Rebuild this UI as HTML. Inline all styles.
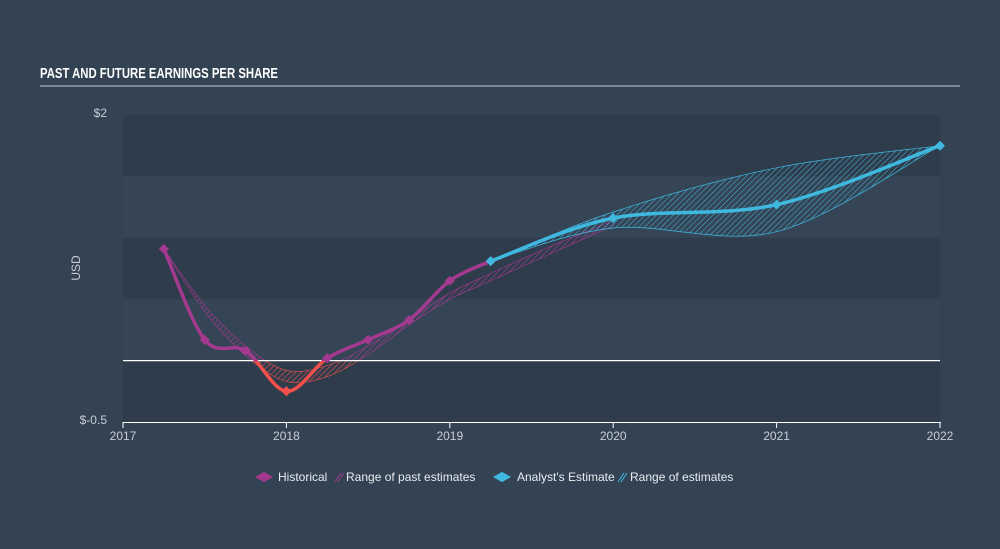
<!DOCTYPE html>
<html><head><meta charset="utf-8"><style>
html,body{margin:0;padding:0;background:#334354;}
body{width:1000px;height:544px;overflow:hidden;font-family:"Liberation Sans",sans-serif;}
</style></head><body>
<svg width="1000" height="544" viewBox="0 0 1000 544" xmlns="http://www.w3.org/2000/svg" id="chart">
<defs>
<pattern id="hatchP" width="4" height="4" patternUnits="userSpaceOnUse" patternTransform="rotate(45)"><line x1="0" y1="0" x2="0" y2="4" stroke="#a43a8f" stroke-width="1.2"/></pattern>
<pattern id="hatchR" width="4" height="4" patternUnits="userSpaceOnUse" patternTransform="rotate(45)"><line x1="0" y1="0" x2="0" y2="4" stroke="#e9524a" stroke-width="1.2"/></pattern>
<pattern id="hatchB" width="4" height="4" patternUnits="userSpaceOnUse" patternTransform="rotate(45)"><line x1="0" y1="0" x2="0" y2="4" stroke="#3fb9e0" stroke-width="1"/></pattern>
<clipPath id="above"><rect x="0" y="0" width="1000" height="361"/></clipPath>
<clipPath id="below"><rect x="0" y="361" width="1000" height="200"/></clipPath>
</defs>
<rect x="0" y="0" width="1000" height="544" fill="#334354"/>
<text x="40" y="78" fill="#ffffff" font-size="15" font-weight="bold" textLength="238" lengthAdjust="spacingAndGlyphs">PAST AND FUTURE EARNINGS PER SHARE</text>
<line x1="40" y1="86" x2="960" y2="86" stroke="#c8ced5" stroke-width="1"/>
<g id="bands"></g>
<text x="0" y="0" transform="translate(80,268) rotate(-90)" fill="#c8ced5" font-size="12" text-anchor="middle">USD</text>
<g id="marks"></g>
<g id="axes"></g>
<g font-size="12" fill="#e8ecef">
<path d="M257 477 l7 -4 l7 4 l-7 4z" fill="#a43a8f" stroke="#a43a8f" stroke-width="2"/>
<text x="278" y="481">Historical</text>
<path d="M335 482 l6 -9 M338 482 l6 -9" stroke="#a43a8f" stroke-width="1"/>
<text x="346" y="481">Range of past estimates</text>
<path d="M495 477 l7 -4 l7 4 l-7 4z" fill="#3fb9e0" stroke="#3fb9e0" stroke-width="2"/>
<text x="517" y="481">Analyst's Estimate</text>
<path d="M618 482 l6 -9 M621 482 l6 -9" stroke="#3fb9e0" stroke-width="1"/>
<text x="630" y="481">Range of estimates</text>
</g>
</svg>
<script>
const histX=[2017.25,2017.5,2017.75,2018.0,2018.25,2018.5,2018.75,2019.0,2019.25];
const histY=[0.91,0.17,0.08,-0.25,0.02,0.17,0.33,0.65,0.81];
const pastRangeX=[2017.25,2017.5,2017.75,2018.0,2018.25,2018.5,2018.75,2019.0,2019.25,2019.6,2020.0];
const pastHigh=[0.91,0.45,0.12,-0.08,-0.04,0.12,0.33,0.55,0.71,0.92,1.14];
const pastLow=[0.91,0.40,0.04,-0.17,-0.13,0.05,0.29,0.50,0.65,0.86,1.10];
const estX=[2019.25,2020.0,2021.0,2022.0];
const estY=[0.81,1.16,1.27,1.75];
const estRangeX=[2019.25,2020.0,2021.0,2022.0];
const estHigh=[0.81,1.21,1.57,1.75];
const estLow=[0.81,1.08,1.05,1.75];
const xTicks=[2017,2018,2019,2020,2021,2022];
const yTicks=[2,-0.5];
const yTickLabels=["$2","$-0.5"];

const X0=123,X1=940,Y0=422,Y1=115;
const xs=v=>X0+(v-2017)/(2022-2017)*(X1-X0);
const ys=v=>Y0-(v-(-0.5))/(2-(-0.5))*(Y0-Y1);
const NS="http://www.w3.org/2000/svg";
function mk(tag,attrs,parent){const e=document.createElementNS(NS,tag);for(const k in attrs)e.setAttribute(k,attrs[k]);parent.appendChild(e);return e;}
function smooth(px,py){
  let d="M"+px[0]+" "+py[0];
  for(let i=0;i<px.length-1;i++){
    const p0x=px[Math.max(i-1,0)],p0y=py[Math.max(i-1,0)];
    const p3x=px[Math.min(i+2,px.length-1)],p3y=py[Math.min(i+2,px.length-1)];
    const c1x=px[i]+(px[i+1]-p0x)/6,c1y=py[i]+(py[i+1]-p0y)/6;
    const c2x=px[i+1]-(p3x-px[i])/6,c2y=py[i+1]-(p3y-py[i])/6;
    d+=" C"+c1x+" "+c1y+" "+c2x+" "+c2y+" "+px[i+1]+" "+py[i+1];
  }
  return d;
}
function band(xv,hi,lo){
  const a=smooth(xv.map(xs),hi.map(ys));
  const rx=xv.slice().reverse().map(xs),ry=lo.slice().reverse().map(ys);
  return a+" L"+smooth(rx,ry).slice(1)+" Z";
}
const bands=document.getElementById('bands');
for(let i=0;i<5;i++){
  const v=2-i*0.5;
  const r=mk('rect',{x:X0,y:ys(v),width:X1-X0,height:ys(v-0.5)-ys(v),fill:i%2==0?'#2f3c4c':'#354556'},bands);
  
  
}
const marks=document.getElementById('marks');
const pd=band(pastRangeX,pastHigh,pastLow);
let e=mk('path',{d:pd,fill:'url(#hatchP)',stroke:'#a43a8f','stroke-width':0.6,'clip-path':'url(#above)'},marks);


e=mk('path',{d:pd,fill:'url(#hatchR)',stroke:'#e9524a','stroke-width':0.6,'clip-path':'url(#below)'},marks);


e=mk('path',{d:band(estRangeX,estHigh,estLow),fill:'url(#hatchB)',stroke:'#3fb9e0','stroke-width':0.7},marks);


const zl=mk('line',{x1:X0,x2:X1,y1:ys(0),y2:ys(0),stroke:'#ffffff','stroke-width':1.2},marks);


const hd=smooth(histX.map(xs),histY.map(ys));
e=mk('path',{d:hd,fill:'none',stroke:'#a43a8f','stroke-width':3.5,'clip-path':'url(#above)'},marks);


e=mk('path',{d:hd,fill:'none',stroke:'#f2504a','stroke-width':3.5,'clip-path':'url(#below)'},marks);


e=mk('path',{d:smooth(estX.map(xs),estY.map(ys)),fill:'none',stroke:'#3fb9e0','stroke-width':3.5},marks);


histX.forEach((x,i)=>{
  const cx=xs(x),cy=ys(histY[i]);
  const p=mk('path',{d:`M${cx-5} ${cy} L${cx} ${cy-5} L${cx+5} ${cy} L${cx} ${cy+5}Z`,fill:histY[i]<0?'#f2504a':'#a43a8f'},marks);
  
  
});
estX.forEach((x,i)=>{
  const cx=xs(x),cy=ys(estY[i]);
  const p=mk('path',{d:`M${cx-5} ${cy} L${cx} ${cy-5} L${cx+5} ${cy} L${cx} ${cy+5}Z`,fill:'#3fb9e0'},marks);
  
  
});
const axes=document.getElementById('axes');
const xa=mk('line',{x1:X0,x2:X1+1,y1:Y0+0.5,y2:Y0+0.5,stroke:'#ffffff','stroke-width':1},axes);


xTicks.forEach(t=>{
  const l=mk('line',{x1:xs(t),x2:xs(t),y1:Y0,y2:Y0+6,stroke:'#ffffff','stroke-width':1},axes);
  
  
  const tx=mk('text',{x:xs(t),y:Y0+18,fill:'#c8ced5','font-size':12,'text-anchor':'middle'},axes);
  tx.textContent=t;
  
  
});
yTicks.forEach((t,i)=>{
  const tx=mk('text',{x:X0-16,y:ys(t)+2,fill:'#c8ced5','font-size':12,'text-anchor':'end'},axes);
  tx.textContent=yTickLabels[i];
  
  
});
</script>
</body></html>
